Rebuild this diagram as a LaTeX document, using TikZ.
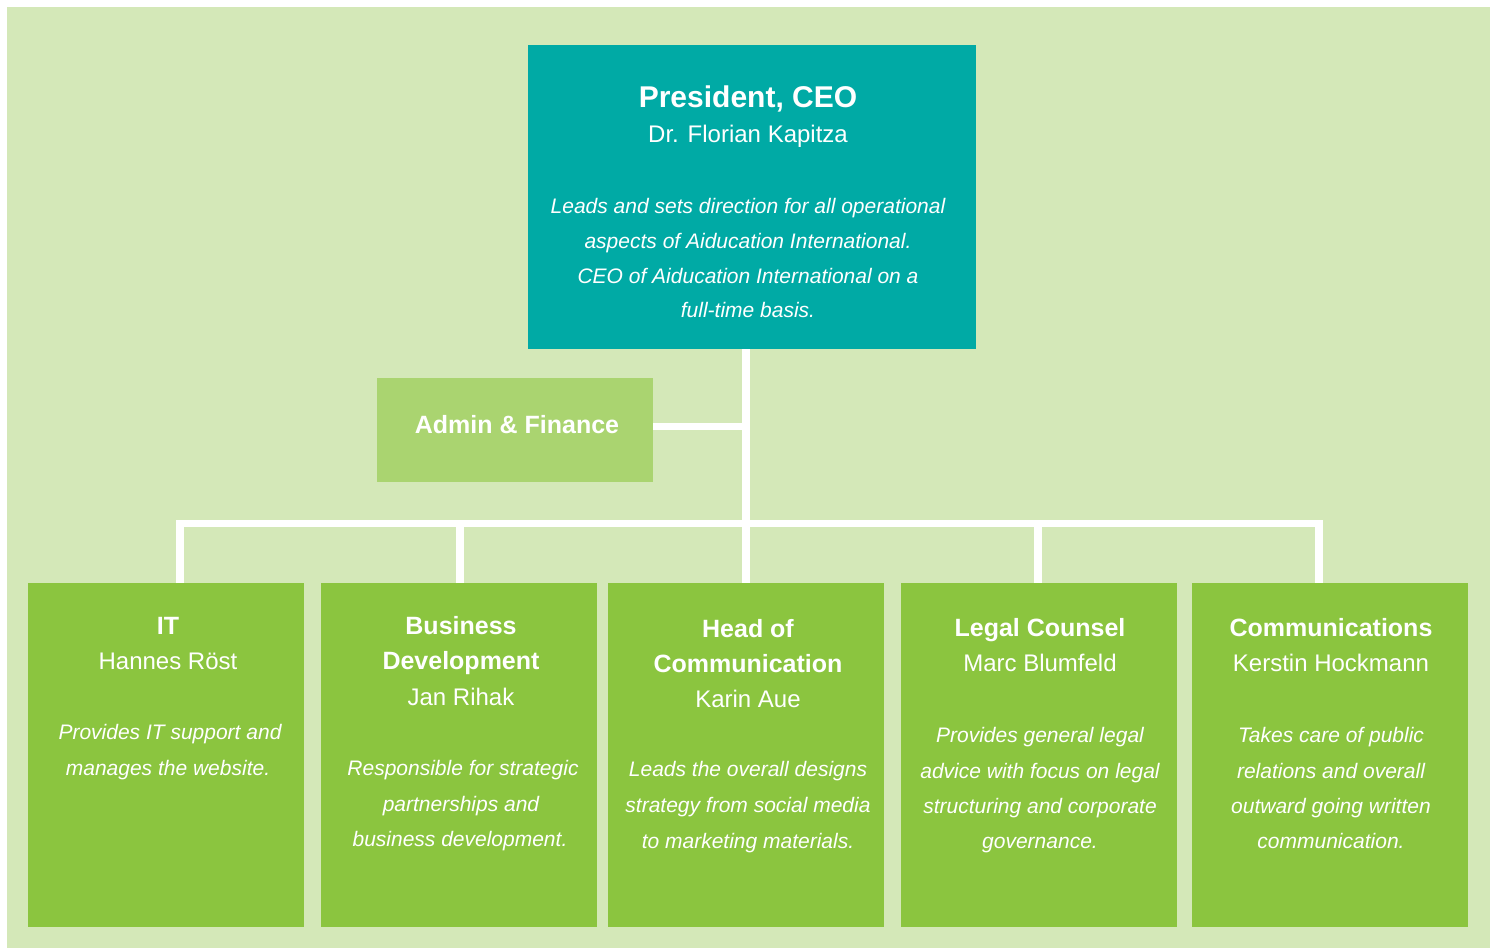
\documentclass[tikz,border=0pt]{standalone}
\usepackage{fontspec}
\setmainfont{Liberation Sans}
\definecolor{bgc}{HTML}{D4E8B8}
\definecolor{tealc}{HTML}{00AAA5}
\definecolor{adminc}{HTML}{AAD470}
\definecolor{deptc}{HTML}{8BC53F}
\begin{document}
\begin{tikzpicture}[x=1pt,y=-1pt,
  box/.style={rectangle, draw=none, inner sep=0pt, anchor=north west},
  conn/.style={draw=white, line width=7.5pt},
  ceottl/.style={font=\fontsize{30}{36}\selectfont\bfseries, text=white, anchor=base, inner sep=0pt},
  ttl/.style={font=\fontsize{25}{30}\selectfont\bfseries, text=white, anchor=base, inner sep=0pt},
  nm/.style={font=\fontsize{24}{29}\selectfont, text=white, anchor=base, inner sep=0pt},
  ds/.style={font=\fontsize{21}{25}\selectfont\itshape, text=white, anchor=base, inner sep=0pt},
]
\useasboundingbox (0,0) rectangle (1497,948);
\fill[bgc] (7,7) rectangle (1490,948);

% boxes
\node[box, fill=tealc, minimum width=448pt, minimum height=304pt] (ceo) at (528,45) {};
\node[box, fill=adminc, minimum width=276pt, minimum height=104pt] (admin) at (377,378) {};
\node[box, fill=deptc, minimum width=276pt, minimum height=344pt] (it) at (28,583) {};
\node[box, fill=deptc, minimum width=276pt, minimum height=344pt] (bd) at (321,583) {};
\node[box, fill=deptc, minimum width=276pt, minimum height=344pt] (hoc) at (608,583) {};
\node[box, fill=deptc, minimum width=276pt, minimum height=344pt] (legal) at (901,583) {};
\node[box, fill=deptc, minimum width=276pt, minimum height=344pt] (comm) at (1192,583) {};

% connectors
\coordinate (bus) at (746,523.5);
\draw[conn] (hoc.north |- ceo.south) -- (hoc.north);
\draw[conn] ([xshift=14pt]it.north) |- (bus) -| ([xshift=-11pt]comm.north);
\draw[conn] ([xshift=1pt]bd.north) -- ([xshift=1pt]bd.north |- bus);
\draw[conn] ([xshift=-1pt]legal.north) -- ([xshift=-1pt]legal.north |- bus);
\draw[conn] ([yshift=3.5pt]admin.east) -- ([yshift=3.5pt]admin.east -| bus);

% CEO text
\node[ceottl] (ceot) at (748,107.5) {President, CEO};
\node[nm] (ceon) at (748,142) {Dr. Florian Kapitza};
\node[ds] (ceod1) at (748,213) {Leads and sets direction for all operational};
\node[ds] (ceod2) at (748,248) {aspects of Aiducation International.};
\node[ds] (ceod3) at (748,283) {CEO of Aiducation International on a};
\node[ds] (ceod4) at (748,317.5) {full-time basis.};

% Admin text
\node[ttl] (admint) at (517,433) {Admin \& Finance};

% IT
\node[ttl] (itt) at (168,634.3) {IT};
\node[nm] (itn) at (168,669.3) {Hannes Röst};
\node[ds] (itd1) at (170,739.3) {Provides IT support and};
\node[ds] (itd2) at (168,775) {manages the website.};

% Business Development
\node[ttl] (bdt1) at (461,634.3) {Business};
\node[ttl] (bdt2) at (461,669.3) {Development};
\node[nm] (bdn) at (461,705) {Jan Rihak};
\node[ds] (bdd1) at (463,775) {Responsible for strategic};
\node[ds] (bdd2) at (461,811) {partnerships and};
\node[ds] (bdd3) at (460,846.5) {business development.};

% Head of Communication
\node[ttl] (hoct1) at (748,637.3) {Head of};
\node[ttl] (hoct2) at (748,672.3) {Communication};
\node[nm] (hocn) at (748,707.3) {Karin Aue};
\node[ds] (hocd1) at (748,776.7) {Leads the overall designs};
\node[ds] (hocd2) at (748,812.3) {strategy from social media};
\node[ds] (hocd3) at (748,848) {to marketing materials.};

% Legal Counsel
\node[ttl] (legt) at (1040,636.7) {Legal Counsel};
\node[nm] (legn) at (1040,671.7) {Marc Blumfeld};
\node[ds] (legd1) at (1040,742.7) {Provides general legal};
\node[ds] (legd2) at (1040,778) {advice with focus on legal};
\node[ds] (legd3) at (1040,813) {structuring and corporate};
\node[ds] (legd4) at (1040,848.5) {governance.};

% Communications
\node[ttl] (comt) at (1331,636.7) {Communications};
\node[nm] (comn) at (1331,671.7) {Kerstin Hockmann};
\node[ds] (comd1) at (1331,742.7) {Takes care of public};
\node[ds] (comd2) at (1331,778) {relations and overall};
\node[ds] (comd3) at (1331,813) {outward going written};
\node[ds] (comd4) at (1331,848.5) {communication.};
\end{tikzpicture}
\end{document}
